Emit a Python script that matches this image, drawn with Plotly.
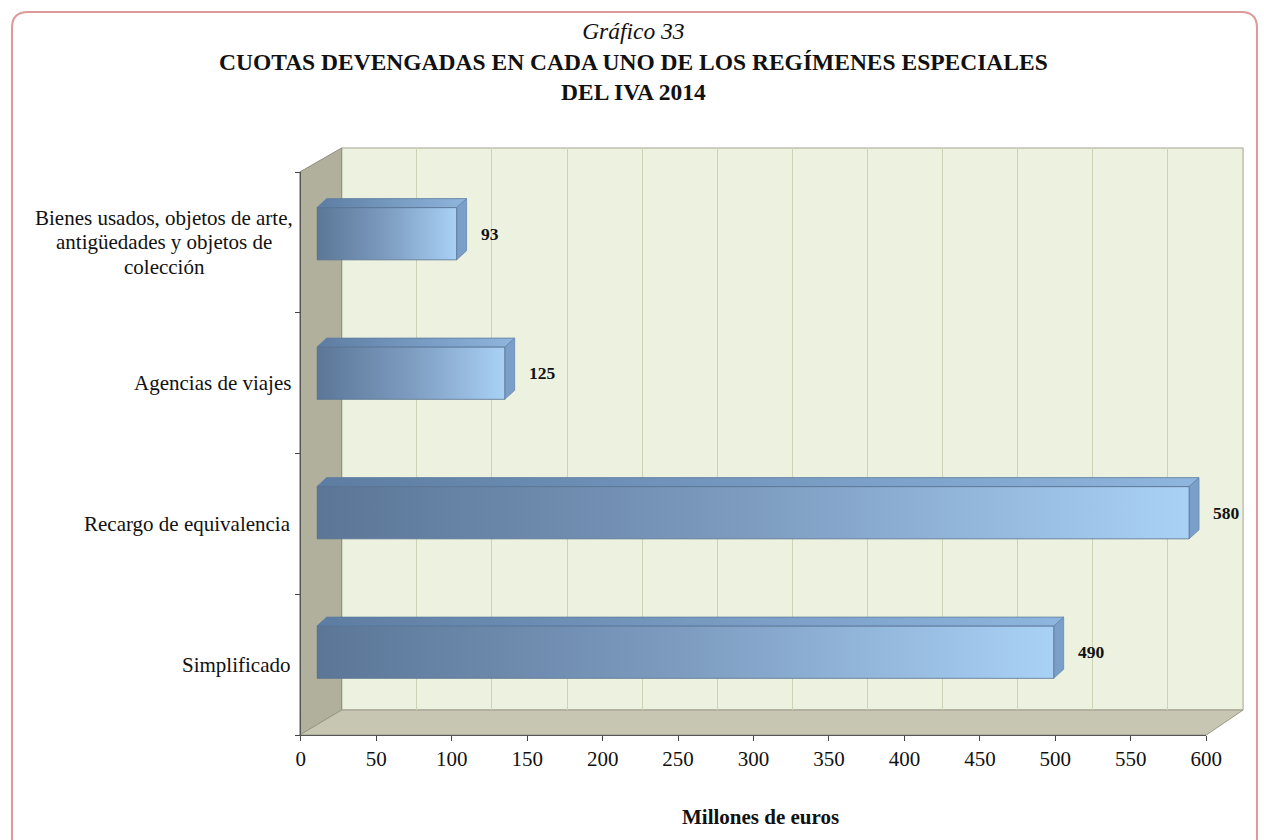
import plotly.graph_objects as go

# ---- data ----
categories = [
    "Simplificado",
    "Recargo de equivalencia",
    "Agencias de viajes",
    "Bienes usados, objetos de arte,<br>antigüedades y objetos de<br>colección",
]
values = [490, 580, 125, 93]
x_ticks = [0, 50, 100, 150, 200, 250, 300, 350, 400, 450, 500, 550, 600]

# the page viewport is filled edge to edge; positions below are given in
# reference-image pixels (1264 x 840) and converted to paper fractions
W, H = 1280, 840
REF_W, REF_H = 1264, 840
SERIF = "Liberation Serif, Times New Roman, serif"

# 3-D bar styling (sizes in axis units of the bar subplot)
HALF = 0.187         # half height of the front face
DX, DY = 6.6, 0.065  # depth offset of top / side faces


def px(x):
    return x / REF_W


def py(y):
    return 1 - y / REF_H


def path(points):
    return "M " + " L ".join(f"{px(x):.5f},{py(y):.5f}" for x, y in points) + " Z"


fig = go.Figure()

# invisible trace to establish the back-wall grid axes
fig.add_trace(go.Scatter(x=[0, 600], y=[0, 1], xaxis="x2", yaxis="y2",
                         mode="markers", marker=dict(opacity=0),
                         hoverinfo="skip", showlegend=False))
# invisible trace to establish the front category axis
fig.add_trace(go.Scatter(x=[0] * len(categories), y=categories, xaxis="x", yaxis="y",
                         mode="markers", marker=dict(opacity=0),
                         hoverinfo="skip", showlegend=False))

# bars: top face, right side face, front face (gradient)
for i, (c, v) in enumerate(zip(categories, values)):
    lo, hi = i - HALF, i + HALF
    fig.add_trace(go.Scatter(
        x=[0, v, v + DX, DX, 0], y=[hi, hi, hi + DY, hi + DY, hi],
        xaxis="x3", yaxis="y3", mode="lines", fill="toself",
        line=dict(color="#5f7da2", width=0.8),
        fillgradient=dict(type="horizontal",
                          colorscale=[[0, "#5d7ca1"], [1, "#8fb6de"]]),
        hoverinfo="skip", showlegend=False))
    fig.add_trace(go.Scatter(
        x=[v, v + DX, v + DX, v, v], y=[lo, lo + DY, hi + DY, hi, lo],
        xaxis="x3", yaxis="y3", mode="lines", fill="toself",
        line=dict(color="#6688b0", width=0.8), fillcolor="#7a9fc8",
        hoverinfo="skip", showlegend=False))
    fig.add_trace(go.Scatter(
        x=[0, v, v, 0, 0], y=[lo, lo, hi, hi, lo],
        xaxis="x3", yaxis="y3", mode="lines", fill="toself",
        line=dict(color="#56708f", width=0.8),
        fillgradient=dict(type="horizontal",
                          colorscale=[[0, "#5b7697"], [0.5, "#7d9cc0"], [1, "#a9d1f6"]]),
        name=c.replace("<br>", " "), text=f"{v}", hoverinfo="name+text",
        showlegend=False))

shapes = []
# rounded border
r = 16
L, T, R, B = 7, 12, 1257, 860
border = (f"M {px(L):.5f},{py(T + r):.5f} Q {px(L):.5f},{py(T):.5f} {px(L + r):.5f},{py(T):.5f} "
          f"L {px(R - r):.5f},{py(T):.5f} Q {px(R):.5f},{py(T):.5f} {px(R):.5f},{py(T + r):.5f} "
          f"L {px(R):.5f},{py(B):.5f} L {px(L):.5f},{py(B):.5f} Z")
shapes.append(dict(type="path", xref="paper", yref="paper", path=border,
                   line=dict(color="#dd9a98", width=2), fillcolor="rgba(0,0,0,0)", layer="below"))
# back wall
shapes.append(dict(type="path", xref="paper", yref="paper",
                   path=path([(338, 148), (1243, 148), (1243, 710), (338, 710)]),
                   fillcolor="#edf2e0", line=dict(color="#a4a494", width=1), layer="below"))
# left wall
shapes.append(dict(type="path", xref="paper", yref="paper",
                   path=path([(296, 172), (338, 148), (338, 710), (296, 735)]),
                   fillcolor="#b0b09c", line=dict(color="#8f8f80", width=1), layer="below"))
# floor
shapes.append(dict(type="path", xref="paper", yref="paper",
                   path=path([(296, 735), (338, 710), (1243, 710), (1206, 735)]),
                   fillcolor="#c6c6b2", line=dict(color="#9a9a8a", width=1), layer="below"))

annotations = []
# title (three lines in one text block)
annotations.append(dict(xref="paper", yref="paper", x=px(631), y=py(62),
                        text="<i>Gráfico 33</i><br><b>CUOTAS DEVENGADAS EN CADA UNO DE LOS "
                             "REGÍMENES ESPECIALES</b><br><b>DEL IVA 2014</b>",
                        showarrow=False, font=dict(family=SERIF, size=23.5, color="#111"),
                        xanchor="center", yanchor="middle", align="center"))
# axis title
annotations.append(dict(xref="paper", yref="paper", x=px(759), y=py(817),
                        text="<b>Millones de euros</b>", showarrow=False,
                        font=dict(family=SERIF, size=21, color="#111"),
                        xanchor="center", yanchor="middle"))
# category labels (lines centred within the block, block right-aligned)
for c in categories:
    lines = c.split("<br>")
    n = len(lines)
    for k, line in enumerate(lines):
        annotations.append(dict(xref="paper", yref="y", x=px(289) if n == 1 else px(160),
                                y=c, text=line, showarrow=False,
                                font=dict(family=SERIF, size=21, color="#111"),
                                xanchor="right" if n == 1 else "center",
                                yanchor="middle", yshift=(n - 1) / 2 * 24.5 - k * 24.5))
# value labels
for i, (c, v) in enumerate(zip(categories, values)):
    annotations.append(dict(xref="x3", yref="y3", x=v, y=i, text=f"<b>{v}</b>",
                            showarrow=False, xshift=22, xanchor="left", yanchor="middle",
                            font=dict(family=SERIF, size=17.5, color="#111")))

fig.update_layout(
    width=W, height=H,
    margin=dict(l=0, r=0, t=0, b=0),
    paper_bgcolor="white",
    plot_bgcolor="rgba(0,0,0,0)",
    shapes=shapes,
    annotations=annotations,
    showlegend=False,
    # front axes (ticks, labels)
    xaxis=dict(domain=[px(297), px(1206)], range=[0, 600], anchor="y",
               tickvals=x_ticks, ticks="outside", ticklen=5, tickcolor="#444",
               showline=True, linecolor="#555", linewidth=1, showgrid=False, zeroline=False,
               tickfont=dict(family=SERIF, size=21, color="#111")),
    yaxis=dict(domain=[py(735), py(172)], anchor="x", type="category",
               categoryorder="array", categoryarray=categories, range=[-0.5, 3.5],
               tickson="boundaries", ticks="outside", ticklen=5, tickcolor="#444",
               showticklabels=False, showline=True, linecolor="#555", linewidth=1,
               showgrid=False, zeroline=False),
    # back wall grid axes
    xaxis2=dict(domain=[px(338), px(1243)], range=[0, 600], anchor="y2",
                tickvals=x_ticks, showticklabels=False, ticks="",
                showgrid=True, gridcolor="#cdd3b6", gridwidth=1, zeroline=False, showline=False),
    yaxis2=dict(domain=[py(710), py(148)], range=[0, 1], anchor="x2",
                showticklabels=False, showgrid=False, zeroline=False, showline=False),
    # bar axes
    xaxis3=dict(domain=[px(313), px(1219)], range=[0, 600], anchor="y3",
                visible=False, showgrid=False, zeroline=False),
    yaxis3=dict(domain=[py(722), py(164)], anchor="x3", range=[-0.5, 3.5],
                visible=False, showgrid=False, zeroline=False),
)

fig.write_html(
    "out.html",
    config={"displayModeBar": False},
    post_script="document.documentElement.style.overflow='hidden';"
                "document.body.style.margin='0';document.body.style.overflow='hidden';",
)
